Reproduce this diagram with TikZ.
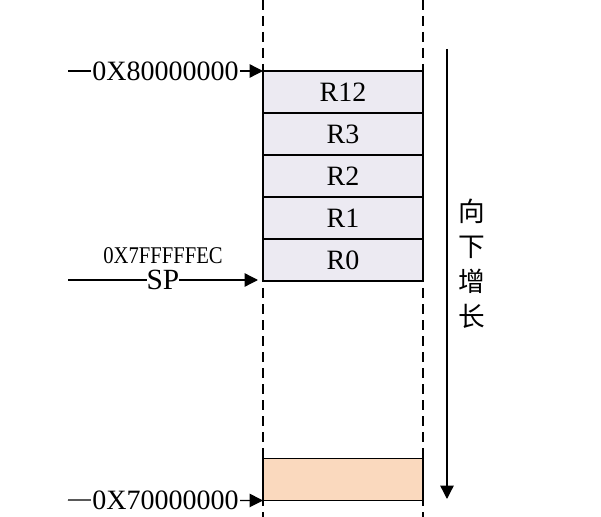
\documentclass[tikz,border=0pt]{standalone}
\usepackage{fontspec}
\setmainfont{Liberation Serif}
\newfontfamily\condserif[FakeStretch=0.86]{Liberation Serif}
\newfontfamily\cjk{Noto Sans CJK SC}
\usepackage{tikz}
\usetikzlibrary{
  arrows.meta,
  positioning
}
\definecolor{SlotGray}{RGB}{236, 234, 242}
\definecolor{HeapPeach}{RGB}{250, 217, 190}
\tikzset{
    slot/.style={rectangle, draw=black, line width=1.1pt, fill=SlotGray,
        minimum width=120pt, minimum height=31.5pt, inner sep=0pt, outer sep=0pt,
        font=\fontsize{21}{24}\selectfont},
    addrarrow/.style={line width=1pt, -{Triangle[length=10pt, width=10pt]}},
    addrlabel/.style={fill=white, inner sep=1pt, font=\fontsize{21}{24}\selectfont},
    boundary/.style={line width=1.1pt, dash pattern=on 7.5pt off 4.5pt}
}

\begin{document}
\begin{tikzpicture}[x=0.75pt, y=-0.75pt]
    \useasboundingbox (0,0) rectangle (601,517);
    % stack boundaries
    \coordinate (ltop) at (263,0);
    \coordinate (lbot) at (263,517);
    \coordinate (rtop) at (423,0);
    \coordinate (rbot) at (423,517);
    \draw[boundary] (ltop) -- (lbot);
    \draw[boundary] (rtop) -- (rbot);
    % saved registers
    \node[slot] (r12) at (343,92) {R12};
    \node[slot, below=0pt of r12] (r3) {R3};
    \node[slot, below=0pt of r3] (r2) {R2};
    \node[slot, below=0pt of r2] (r1) {R1};
    \node[slot, below=0pt of r1] (r0) {R0};
    \node[slot, fill=HeapPeach] (bottom) at (343,479.5) {};
    % addresses
    \coordinate (a80) at (68,71);
    \coordinate (asp) at (68,280);
    \coordinate (asptip) at (258,280);
    \coordinate (a70) at (68,500);
    \draw[addrarrow] (a80) -- (r12.north west)
        node[midway, addrlabel] {0X80000000};
    \draw[addrarrow] (asp) -- (asptip)
        node[midway, addrlabel, inner sep=0pt, font=\fontsize{22}{24}\selectfont] (sp) {SP};
    \node[above=4pt of sp, inner sep=0pt, font=\condserif\fontsize{18}{20}\selectfont] (spaddr) {0X7FFFFFEC};
    \draw[addrarrow] (a70) -- (bottom.south west)
        node[midway, addrlabel] {0X70000000};
    % growth direction
    \coordinate (gtop) at (447,49);
    \coordinate (gbot) at (447,499);
    \draw[addrarrow] (gtop) -- (gbot);
    \node[align=center, font=\cjk\fontsize{20}{26.25}\selectfont] (grow) at (472,264) {向\\下\\增\\长};
\end{tikzpicture}
\end{document}
